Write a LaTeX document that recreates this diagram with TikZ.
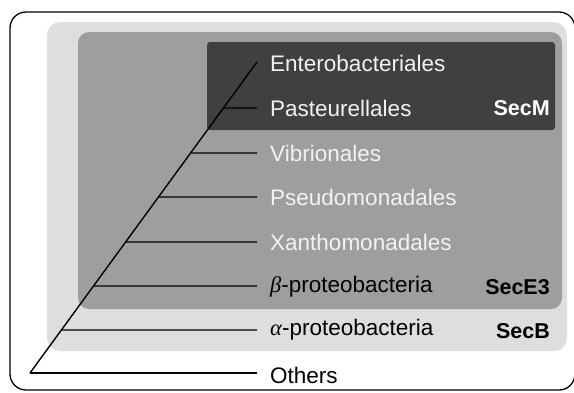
\documentclass[tikz,border=0pt]{standalone}
\usepackage{fontspec}
\setmainfont{Liberation Sans}
\newfontfamily\grk{Liberation Serif}
\begin{document}
\begin{tikzpicture}[x=1pt,y=-1pt,
  lab/.style={anchor=west,inner sep=0pt,font=\fontsize{22.5}{26}\selectfont},
  tag/.style={anchor=east,inner sep=0pt,font=\fontsize{21.5}{26}\selectfont\bfseries},
  br/.style={line width=1.4pt,black}]
\useasboundingbox (0,0) rectangle (574,392);
\definecolor{lightg}{HTML}{DEDEDE}
\definecolor{midg}{HTML}{9E9E9E}
\definecolor{darkg}{HTML}{404040}
\definecolor{wtxt}{HTML}{F2F2F2}
% frames
\draw[line width=1.3pt,rounded corners=16pt] (10,12) rectangle (575,390);
\fill[lightg,rounded corners=13pt] (47,22) rectangle (567,351);
\fill[midg,rounded corners=11pt] (78,32) rectangle (562,309);
\fill[darkg,rounded corners=3pt] (207,42) rectangle (555,130);
% tree
\coordinate (root) at (30,373);
\coordinate (top) at (257,62);
\draw[br] (root) -- (top);
\foreach \n/\y in {p/108,v/153,ps/197,x/242,b/286,a/330,o/373}{
  \coordinate (e\n) at (257,\y);
  \path (root) -- (top) coordinate[pos={(373-\y)/311}] (s\n);
  \draw[br] (s\n) -- (e\n);
}
% labels
\node[lab,text=wtxt] (lE) at (270,63) {Enterobacteriales};
\node[lab,text=wtxt] (lP) at (270,108) {Pasteurellales};
\node[lab,text=wtxt] (lV) at (270,153) {Vibrionales};
\node[lab,text=wtxt] (lPs) at (270,197) {Pseudomonadales};
\node[lab,text=wtxt] (lX) at (270,242) {Xanthomonadales};
\node[lab,text=black] (lB) at (270,287) {{\grk\itshape β}-proteobacteria};
\node[lab,text=black] (lA) at (270,330) {{\grk\itshape α}-proteobacteria};
\node[lab,text=black] (lO) at (270,375) {Others};
\node[tag,text=white] (tM) at (550,108) {SecM};
\node[tag,text=black] (tE) at (550,287) {SecE3};
\node[tag,text=black] (tB) at (550,331) {SecB};
\end{tikzpicture}
\end{document}
